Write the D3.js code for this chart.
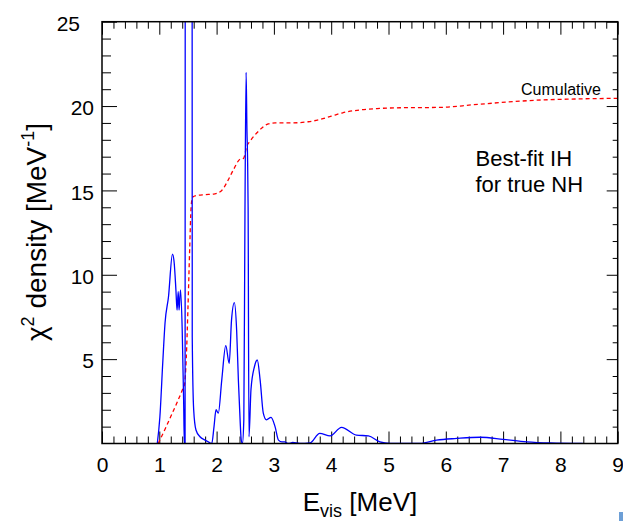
<!DOCTYPE html>
<html>
<head>
<meta charset="utf-8">
<script src="https://cdn.jsdelivr.net/npm/d3@7"></script>
<style>
  html, body { margin: 0; padding: 0; background: #fff; }
  svg { display: block; font-family: "Liberation Sans", Arial, Helvetica, sans-serif; }
</style>
</head>
<body>
<svg id="chart" width="623" height="521"></svg>
<script>
// ---- data ----
const densityE = [0.965, 1.01, 1.06, 1.10, 1.16, 1.23, 1.26, 1.29, 1.31, 1.33, 1.345, 1.37, 1.40, 1.425, 1.437, 1.45, 1.455, 1.57, 1.575, 1.60, 1.64, 1.71, 1.80, 1.855, 1.915, 1.955, 1.99, 2.03, 2.09, 2.16, 2.22, 2.26, 2.31, 2.35, 2.38, 2.41, 2.43, 2.45, 2.475, 2.495, 2.515, 2.53, 2.54, 2.55, 2.565, 2.60, 2.66, 2.71, 2.76, 2.815, 2.87, 2.95, 3.02, 3.08, 3.14, 3.19, 3.25, 3.33, 3.45, 3.63, 3.80, 3.98, 4.18, 4.44, 4.65, 4.85, 5.03, 5.55, 5.84, 6.19, 6.60, 7.00, 7.41, 7.82, 8.39];
const densityV = [0, 1.57, 4.77, 7.14, 8.68, 11.23, 10.7, 9.1, 7.9, 9.0, 7.9, 9.1, 6.7, 2.5, 0, 0, 60, 60, 6.3, 2.0, 0.8, 0.4, 0.2, 0.1, 0, 1.0, 2.0, 1.8, 3.76, 5.8, 4.75, 7.3, 8.35, 6.7, 3.76, 1.4, 0.2, 0, 1.4, 13.7, 22.0, 18.5, 17.0, 14.0, 0.4, 3.2, 4.55, 4.95, 3.76, 1.8, 1.4, 1.55, 1.0, 0.2, 0.1, 0.1, 0, 0.06, 0, 0.03, 0.6, 0.45, 0.96, 0.5, 0.45, 0.1, 0.01, 0, 0.2, 0.3, 0.37, 0.25, 0.1, 0.03, 0];

const cumulE = [0.98, 1.1, 1.2, 1.3, 1.4, 1.44, 1.47, 1.50, 1.53, 1.555, 1.58, 1.65, 1.8, 1.97, 2.09, 2.2, 2.29, 2.41, 2.47, 2.525, 2.58, 2.7, 2.79, 2.9, 3.02, 3.28, 3.6, 3.8, 4.0, 4.2, 4.5, 4.8, 5.2, 5.9, 6.49, 7.08, 7.67, 8.27, 8.86, 9.0];
const cumulV = [0, 0.85, 1.6, 2.35, 3.15, 3.5, 5.0, 8.0, 11.5, 14.0, 14.6, 14.7, 14.75, 14.8, 15.0, 15.6, 16.2, 16.85, 16.9, 17.6, 17.9, 18.4, 18.7, 18.94, 19.0, 19.0, 19.07, 19.2, 19.4, 19.6, 19.77, 19.85, 19.9, 19.92, 20.08, 20.24, 20.36, 20.42, 20.45, 20.45];

const xTickValues = [0, 1, 2, 3, 4, 5, 6, 7, 8, 9];
const xTickLabels = ["0", "1", "2", "3", "4", "5", "6", "7", "8", "9"];
const yTickValues = [5, 10, 15, 20, 25];
const yTickLabels = ["5", "10", "15", "20", "25"];

const labelCumulative = "Cumulative";
const noteLines = ["Best-fit IH", "for true NH"];

// ---- layout ----
const svg = d3.select("#chart");
const X0 = 102, X1 = 617.7, Y0 = 443.5, Y1 = 21.7;
const x = d3.scaleLinear().domain([0, 9]).range([X0, X1]);
const y = d3.scaleLinear().domain([0, 25]).range([Y0, Y1]);

svg.append("defs").append("clipPath").attr("id", "plotclip")
  .append("rect").attr("x", X0).attr("y", Y1).attr("width", X1 - X0).attr("height", Y0 - Y1);

const minorX = d3.range(0, 9.001, 0.2).filter(v => Math.abs(v - Math.round(v)) > 1e-6);
const minorY = d3.range(1, 25).filter(v => v % 5 !== 0);

function styleAxis(g) {
  g.select(".domain").remove();
  g.selectAll(".tick line").attr("stroke", "#000").attr("stroke-width", 1);
  g.selectAll("text").attr("fill", "#000").style("font-size", "21px")
    .style("font-family", '"Liberation Sans", Arial, Helvetica, sans-serif');
}

// bottom
svg.append("g").attr("transform", `translate(0,${Y0})`)
  .call(d3.axisBottom(x).tickValues(xTickValues).tickFormat((d, i) => xTickLabels[i]).tickSizeInner(-12).tickSizeOuter(0).tickPadding(14))
  .call(styleAxis);
svg.append("g").attr("transform", `translate(0,${Y0})`)
  .call(d3.axisBottom(x).tickValues(minorX).tickFormat("").tickSizeInner(-7).tickSizeOuter(0))
  .call(styleAxis);
// top
svg.append("g").attr("transform", `translate(0,${Y1})`)
  .call(d3.axisTop(x).tickValues(xTickValues).tickFormat("").tickSizeInner(-13).tickSizeOuter(0))
  .call(styleAxis);
svg.append("g").attr("transform", `translate(0,${Y1})`)
  .call(d3.axisTop(x).tickValues(minorX).tickFormat("").tickSizeInner(-7).tickSizeOuter(0))
  .call(styleAxis);
// left
const gl = svg.append("g").attr("transform", `translate(${X0},0)`)
  .call(d3.axisLeft(y).tickValues(yTickValues).tickFormat((d, i) => yTickLabels[i]).tickSizeInner(-15).tickSizeOuter(0).tickPadding(8))
  .call(styleAxis);
gl.selectAll("text").attr("dy", "0.42em");
gl.selectAll(".tick").filter(d => d === 25).select("text").attr("dx", -14);
svg.append("g").attr("transform", `translate(${X0},0)`)
  .call(d3.axisLeft(y).tickValues(minorY).tickFormat("").tickSizeInner(-9).tickSizeOuter(0))
  .call(styleAxis);
// right
svg.append("g").attr("transform", `translate(${X1},0)`)
  .call(d3.axisRight(y).tickValues(yTickValues).tickFormat("").tickSizeInner(-11).tickSizeOuter(0))
  .call(styleAxis);
svg.append("g").attr("transform", `translate(${X1},0)`)
  .call(d3.axisRight(y).tickValues(minorY).tickFormat("").tickSizeInner(-5).tickSizeOuter(0))
  .call(styleAxis);

// ---- curves ----
const plot = svg.append("g").attr("clip-path", "url(#plotclip)");

const density = densityE.map((e, i) => [e, densityV[i]]);
const cumul = cumulE.map((e, i) => [e, cumulV[i]]);

const line = d3.line().x(d => x(d[0])).y(d => y(d[1])).curve(d3.curveMonotoneX);

plot.append("path").datum(cumul)
  .attr("d", line).attr("fill", "none")
  .attr("stroke", "#ff0000").attr("stroke-width", 1.3).attr("stroke-dasharray", "4,3");

plot.append("path").datum(density)
  .attr("d", line).attr("fill", "none")
  .attr("stroke", "#0000ff").attr("stroke-width", 1.3).attr("stroke-linejoin", "round");

// frame
svg.append("rect").attr("x", X0).attr("y", Y1).attr("width", X1 - X0).attr("height", Y0 - Y1)
  .attr("fill", "none").attr("stroke", "#000").attr("stroke-width", 1.5);

// ---- texts ----
svg.append("text").attr("x", 601).attr("y", 95).attr("text-anchor", "end")
  .style("font-size", "16px").attr("fill", "#000").text(labelCumulative);

svg.append("text").attr("x", 475.5).attr("y", 165.5)
  .style("font-size", "22px").attr("fill", "#000").text(noteLines[0]);
svg.append("text").attr("x", 475.5).attr("y", 191.5)
  .style("font-size", "22px").attr("fill", "#000").text(noteLines[1]);

// x axis title
const xt = svg.append("text").attr("x", 360).attr("y", 511).attr("text-anchor", "middle")
  .style("font-size", "26px").attr("fill", "#000");
xt.append("tspan").text("E");
xt.append("tspan").attr("dy", 6).style("font-size", "18px").text("vis");
xt.append("tspan").attr("dy", -6).text(" [MeV]");

// y axis title
const yt = svg.append("text").attr("transform", "translate(46,232) rotate(-90)")
  .attr("text-anchor", "middle").style("font-size", "28px").attr("fill", "#000");
yt.append("tspan").text("χ");
yt.append("tspan").attr("dy", -12).style("font-size", "18px").text("2");
yt.append("tspan").attr("dy", 12).text(" density [MeV");
yt.append("tspan").attr("dy", -12).style("font-size", "18px").text("-1");
yt.append("tspan").attr("dy", 12).text("]");

// small mark at bottom-right corner of the reference
svg.append("rect").attr("x", 619).attr("y", 512).attr("width", 4).attr("height", 9).attr("fill", "#6d9fd6");
</script>
</body>
</html>
